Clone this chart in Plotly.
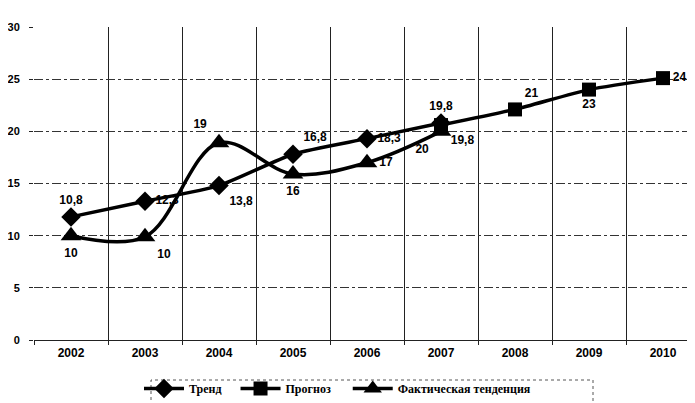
import plotly.graph_objects as go

years = ["2002", "2003", "2004", "2005", "2006", "2007", "2008", "2009", "2010"]

trend_years = ["2002", "2003", "2004", "2005", "2006", "2007"]
trend_vals = [11.8, 13.3, 14.8, 17.8, 19.3, 20.8]
trend_labels = ["10,8", "12,3", "13,8", "16,8", "18,3", "19,8"]

prog_years = ["2007", "2008", "2009", "2010"]
prog_vals = [20.6, 22.1, 24.0, 25.1]
prog_labels = ["19,8", "21", "23", "24"]

fact_years = ["2002", "2003", "2004", "2005", "2006", "2007"]
fact_vals = [10.0, 9.9, 18.9, 15.9, 17.0, 20.0]
fact_labels = ["10", "10", "19", "16", "17", "20"]

y_ticks = [0, 5, 10, 15, 20, 25, 30]

lab_font = dict(family="Arial, Liberation Sans", size=12, color="black", weight="bold")

L, R, T, B = 26, 3, 19, 71
W, H = 695, 403
pw, ph = W - L - R, H - T - B
NB = "\u00a0"

fig = go.Figure()
fig.add_trace(go.Scatter(
    x=trend_years, y=trend_vals, name="Тренд" + NB * 3, mode="lines+markers+text",
    line=dict(color="black", width=3.5, shape="spline", smoothing=0.6),
    marker=dict(symbol="diamond", size=15, color="black"),
    text=trend_labels,
    textposition=["top center", "middle right", "bottom right", "top right", "middle right", "top center"],
    textfont=lab_font,
))
fig.add_trace(go.Scatter(
    x=prog_years, y=prog_vals, name="Прогноз" + NB * 4, mode="lines+markers+text",
    line=dict(color="black", width=3.5, shape="spline", smoothing=0.6),
    marker=dict(symbol="square", size=14, color="black"),
    text=prog_labels,
    textposition=["bottom right", "top right", "bottom center", "middle right"],
    textfont=lab_font,
))
fig.add_trace(go.Scatter(
    x=fact_years, y=fact_vals, name="Фактическая тенденция", mode="lines+markers+text",
    line=dict(color="black", width=3.5, shape="spline", smoothing=1),
    marker=dict(symbol="triangle-up", size=18, color="black"),
    text=fact_labels,
    textposition=["bottom center", "bottom right", "top left", "bottom center", "middle right", "bottom left"],
    textfont=lab_font,
))

fig.update_layout(
    width=W, height=H,
    margin=dict(l=L, r=R, t=T, b=B, autoexpand=False),
    paper_bgcolor="white", plot_bgcolor="white",
    showlegend=True,
    legend=dict(
        orientation="h", x=(131 - L) / pw, xanchor="left", y=(332 - 366) / ph, yanchor="top",
        font=dict(family="Liberation Serif, DejaVu Serif", size=12, color="black", weight="bold"),
        bgcolor="rgba(0,0,0,0)", itemwidth=40,
    ),
    xaxis=dict(
        type="category", categoryorder="array", categoryarray=years,
        range=[-0.5, 8.5], automargin=False,
        showgrid=True, gridcolor="#222", gridwidth=1, tickson="boundaries",
        ticks="outside", ticklen=4, tickcolor="#222",
        showline=True, linecolor="#222", linewidth=1,
        tickfont=dict(family="Arial, Liberation Sans", size=12, color="black", weight="bold"),
        ticklabelstandoff=2,
    ),
    yaxis=dict(
        range=[0, 30], tickvals=y_ticks, automargin=False,
        showgrid=True, gridcolor="#333", gridwidth=1, griddash="dashdot",
        ticks="outside", ticklen=4, tickcolor="#222",
        showline=False, zeroline=False,
        tickfont=dict(family="Arial, Liberation Sans", size=11, color="black", weight="bold"),
        ticklabelstandoff=7,
    ),
    shapes=[dict(
        type="rect", xref="paper", yref="paper",
        x0=(143 - L) / pw, x1=(585 - L) / pw,
        y0=(332 - 401) / ph, y1=(332 - 372) / ph,
        line=dict(color="#555", width=1, dash="dot"),
    )],
)

fig.write_html("out.html")
